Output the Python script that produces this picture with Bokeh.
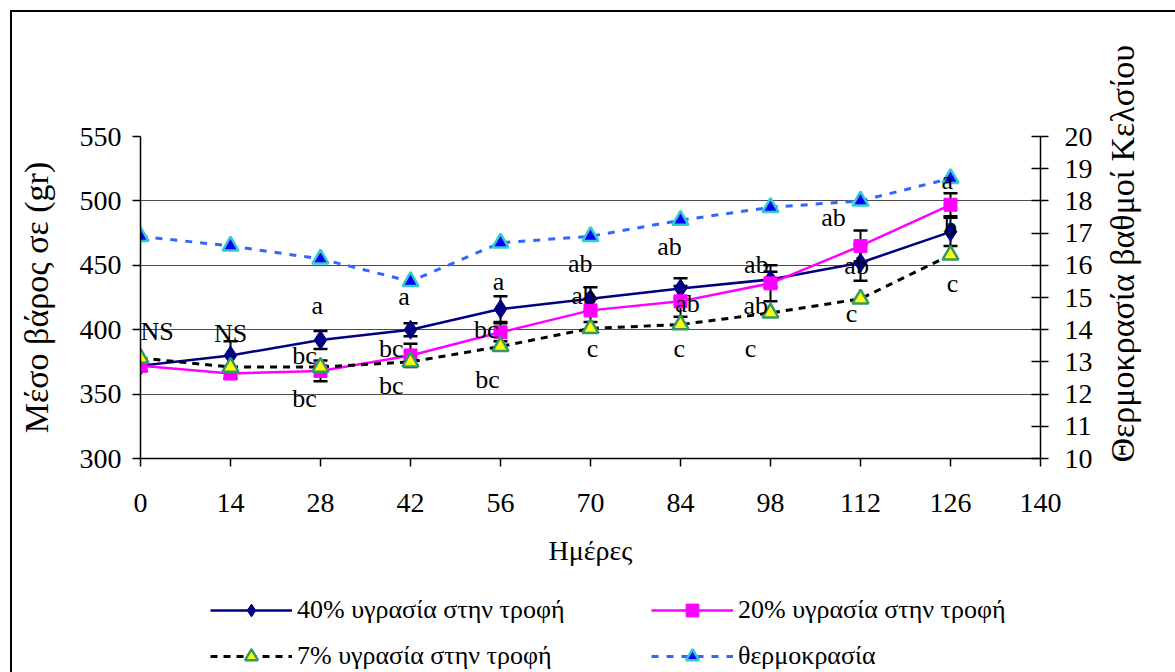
import math
from bokeh.plotting import figure
from bokeh.layouts import column
from bokeh.models import (ColumnDataSource, LinearAxis, Range1d, FixedTicker,
                          Legend, LegendItem, Whisker, TeeHead, Label)
from bokeh.core.properties import value
from bokeh.embed import file_html
from bokeh.resources import INLINE

# ---- data -------------------------------------------------------------
days = [0, 14, 28, 42, 56, 70, 84, 98, 112, 126]
w40 = [372, 380, 392, 400, 416, 424, 432, 439, 452, 476]   # 40% υγρασία
w20 = [372, 366, 368, 380, 398, 415, 422, 436, 465, 497]   # 20% υγρασία
w7 = [378, 371, 371, 375, 387, 401, 404, 413, 424, 458]    # 7% υγρασία
temp = [16.9, 16.6, 16.2, 15.5, 16.7, 16.9, 17.4, 17.8, 18.0, 18.7]
err40 = [4, 11, 7, 5, 10, 9, 8, 6, 14, 11]
err20 = [4, 4, 8, 9, 7, 9, 12, 14, 12, 9]

# significance letters (day, weight position, letter)
sig_day = [2.6, 14, 27.5, 25.5, 25.5, 41, 39, 39, 55.7, 53.8, 54, 68.4, 68.9,
           70.3, 82.3, 85.1, 83.8, 95.8, 95.7, 94.9, 107.8, 111.4, 110.6,
           125.5, 126, 126.3]
sig_pos = [398.6, 397, 418.8, 380, 346.6, 425.8, 385.4, 356.7, 437.4, 400.2,
           361.3, 451.4, 426.6, 385.4, 464.6, 420.3, 385.4, 450.6, 418.8,
           385.4, 487.1, 449.8, 412.6, 515.8, 480.1, 435.9]
sig_text = ["NS", "NS", "a", "bc", "bc", "a", "bc", "bc", "a", "bc", "bc",
            "ab", "ab", "c", "ab", "ab", "c", "ab", "ab", "c", "ab", "ab", "c",
            "a", "b", "c"]

x_ticks = list(range(0, 141, 14))
y_ticks = list(range(300, 551, 50))
t_ticks = list(range(10, 21))

SERIF = "Liberation Serif"

# series styles, shared by the chart and the legend strip
S40 = dict(color="#000080", marker="diamond", msize=19, fill="#000080",
           mline="#000080", mwidth=1, width=2.5, dash="solid")
S20 = dict(color="#FF00FF", marker="square", msize=13, fill="#FF00FF",
           mline="#FF00FF", mwidth=1, width=2.5, dash="solid")
S7 = dict(color="black", marker="triangle", msize=16, fill="#FFFF00",
          mline="#339966", mwidth=2.5, width=3, dash="7 6")
ST = dict(color="#3366FF", marker="triangle", msize=16, fill="#0000FF",
          mline="#33CCCC", mwidth=2.5, width=3, dash="7 8")


def draw(fig, xs, ys, st, **kw):
    ln = fig.line(xs, ys, line_color=st["color"], line_width=st["width"],
                  line_dash=st["dash"], **kw)
    mk = fig.scatter(xs, ys, marker=st["marker"], size=st["msize"],
                     fill_color=st["fill"], line_color=st["mline"],
                     line_width=st["mwidth"], **kw)
    return [ln, mk]


p = figure(width=1163, height=568, x_range=Range1d(0, 140),
           y_range=Range1d(300, 550), output_backend="svg",
           toolbar_location=None, min_border_left=128, min_border_right=135,
           min_border_top=124, min_border_bottom=122)
p.outline_line_color = None
p.background_fill_color = "white"
p.border_fill_color = "white"
p.extra_y_ranges = {"temp": Range1d(10, 20)}


def style_axis(ax):
    ax.minor_tick_line_color = None
    ax.axis_line_color = "black"
    ax.axis_line_width = 1.5
    ax.major_tick_line_color = "black"
    ax.major_tick_line_width = 1.5
    ax.major_label_text_font = SERIF
    ax.major_label_text_font_size = "28px"
    ax.major_label_text_color = "black"
    ax.axis_label_text_font = SERIF
    ax.axis_label_text_font_style = "normal"
    ax.axis_label_text_color = "black"


p.xaxis.ticker = FixedTicker(ticks=x_ticks)
p.yaxis.ticker = FixedTicker(ticks=y_ticks)
for ax in (p.xaxis[0], p.yaxis[0]):
    style_axis(ax)
    ax.major_tick_in = 0
    ax.major_tick_out = 8

p.xaxis.major_label_standoff = 27
p.xaxis.axis_label = "Ημέρες"
p.xaxis.axis_label_text_font_size = "28px"
p.xaxis.axis_label_standoff = 20

p.yaxis.major_label_standoff = 11
p.yaxis.axis_label = "Μέσο βάρος σε (gr)"
p.yaxis.axis_label_text_font_size = "34px"
p.yaxis.axis_label_standoff = 22

raxis = LinearAxis(y_range_name="temp", ticker=FixedTicker(ticks=t_ticks))
style_axis(raxis)
raxis.major_tick_in = 9
raxis.major_tick_out = 8
raxis.major_label_standoff = 16
p.add_layout(raxis, "right")

# title of the temperature scale, reading upwards from the foot of the axis
p.add_layout(Label(x=140, y=10, y_range_name="temp", x_offset=82, y_offset=-4,
                   angle=math.pi / 2, text="Θερμοκρασία βαθμοί Κελσίου",
                   text_align="left", text_baseline="middle",
                   text_font=SERIF, text_font_size="34px",
                   text_color="black"), "right")

p.xgrid.grid_line_color = None
p.ygrid.grid_line_color = "#4d4d4d"
p.ygrid.grid_line_width = 1.2

# ---- series -----------------------------------------------------------
draw(p, days, w40, S40)
draw(p, days, w20, S20)
draw(p, days, w7, S7)
draw(p, days, temp, ST, y_range_name="temp")

# error bars
for ys, es in ((w40, err40), (w20, err20)):
    src = ColumnDataSource(dict(x=days,
                                lo=[y - e for y, e in zip(ys, es)],
                                hi=[y + e for y, e in zip(ys, es)]))
    p.add_layout(Whisker(source=src, base="x", lower="lo", upper="hi",
                         dimension="height", line_color="black", line_width=2,
                         upper_head=TeeHead(size=14, line_width=2.5,
                                            line_color="black"),
                         lower_head=TeeHead(size=14, line_width=2.5,
                                            line_color="black")))

# significance letters
p.text(x=sig_day, y=sig_pos, text=sig_text, text_align="center",
       text_baseline="middle", text_font=value(SERIF),
       text_font_size="26px", text_color="black")

# ---- legend strip under the chart ---------------------------------------
# the strip's ranges keep its own copies of the series out of view, so only
# the legend entries show
leg = figure(width=1163, height=92, x_range=Range1d(-2, -1),
             y_range=Range1d(-2, -1), output_backend="svg",
             toolbar_location=None, x_axis_type=None, y_axis_type=None,
             min_border=0)
leg.outline_line_color = None
leg.xgrid.grid_line_color = None
leg.ygrid.grid_line_color = None

entries = [
    ("40% υγρασία στην τροφή", w40, S40, (70, 46)),
    ("20% υγρασία στην τροφή", w20, S20, (511, 46)),
    ("7% υγρασία στην τροφή", w7, S7, (70, 0)),
    ("θερμοκρασία", temp, ST, (511, 0)),
]
for label, ys, st, loc in entries:
    rends = draw(leg, days, ys, st)
    lg = Legend(items=[LegendItem(label=label, renderers=rends)],
                location=loc, padding=0, margin=0, border_line_alpha=0,
                background_fill_alpha=0, glyph_width=82, glyph_height=32,
                label_standoff=5, label_text_font=SERIF,
                label_text_font_size="26px", label_text_color="black")
    leg.add_layout(lg, "center")

page = column(p, leg, spacing=0, margin=(10, 0, 0, 10),
              styles={"border-left": "2px solid #000",
                      "border-top": "2px solid #000"})

open("out.html", "w").write(file_html(page, INLINE))
